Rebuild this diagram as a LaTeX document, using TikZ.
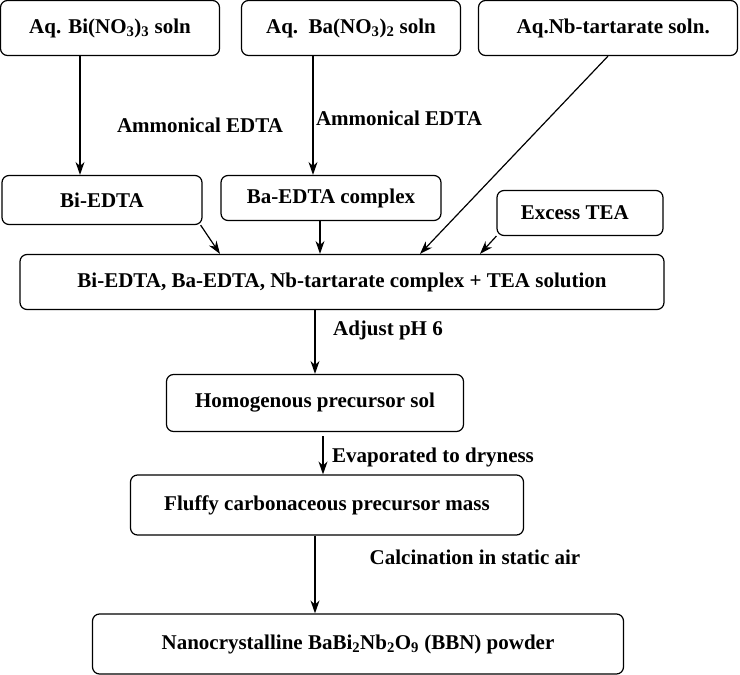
\documentclass[tikz,border=0pt]{standalone}
\usepackage{fontspec}
\setmainfont{Liberation Serif}
\usetikzlibrary{arrows.meta}
\tikzset{
  stepbox/.style={draw,rounded corners=7pt,line width=1.2pt,inner sep=2pt},
  lbl/.style={inner sep=0pt}
}
\begin{document}
\begin{tikzpicture}[x=1pt,y=-1pt,>={Stealth[length=13pt,width=9pt]},line width=1.2pt,font=\bfseries\fontsize{21}{25}\selectfont]
  \useasboundingbox (0,0) rectangle (740,675);
  % starting solutions
  \node[stepbox,minimum width=219pt,minimum height=55pt] (bin) at (110,28) {Aq. Bi(NO\textsubscript{3})\textsubscript{3} soln};
  \node[stepbox,minimum width=219pt,minimum height=55pt] (ban) at (351,28) {Aq.\ \ Ba(NO\textsubscript{3})\textsubscript{2} soln};
  \node[stepbox,minimum width=259pt,minimum height=55pt] (nbt) at (608,28) {\ \ Aq.Nb-tartarate soln.};
  % complexes
  \node[stepbox,minimum width=200pt,minimum height=49pt] (bie) at (102,200) {Bi-EDTA};
  \node[stepbox,minimum width=220pt,minimum height=45pt] (bae) at (331,198) {Ba-EDTA complex};
  \node[stepbox,minimum width=166pt,minimum height=45pt] (tea) at (580,213) {Excess TEA\ \ \ };
  \node[stepbox,minimum width=644pt,minimum height=55pt] (mix) at (342,282) {Bi-EDTA, Ba-EDTA, Nb-tartarate complex + TEA solution};
  % processing
  \node[stepbox,minimum width=297pt,minimum height=57pt] (sol) at (315,403) {Homogenous precursor sol};
  \node[stepbox,minimum width=393pt,minimum height=60pt] (mass) at (327,505) {Fluffy carbonaceous precursor mass};
  \node[stepbox,minimum width=531pt,minimum height=60pt] (bbn) at (358,644) {Nanocrystalline BaBi\textsubscript{2}Nb\textsubscript{2}O\textsubscript{9} (BBN) powder};
  % labels
  \node[lbl] (edta1) at (200,125) {Ammonical EDTA};
  \node[lbl] (edta2) at (399,118) {Ammonical EDTA};
  \node[lbl] (ph) at (388,330) {Adjust pH 6};
  \node[lbl] (evap) at (433,457) {Evaporated to dryness};
  \node[lbl] (calc) at (475,557) {Calcination in static air};
  % arrows
  \draw[->] ([xshift=-30pt]bin.south) -- ([xshift=-22pt]bie.north);
  \draw[->] ([xshift=-38pt]ban.south) -- ([xshift=-18pt]bae.north);
  \draw[->] (nbt.south) -- ([xshift=78pt]mix.north);
  \draw[->] (tea.south west) -- ([xshift=138pt]mix.north);
  \draw[->] ([xshift=-2pt]bie.south east) -- ([xshift=-122pt]mix.north);
  \draw[->] ([xshift=-11pt]bae.south) -- ([xshift=-22pt]mix.north);
  \draw[->] ([xshift=-27pt]mix.south) -- (sol.north);
  \draw[->] ([xshift=8pt,yshift=-4pt]sol.south) -- ([xshift=-4pt]mass.north);
  \draw[->] ([xshift=-12pt]mass.south) -- ([xshift=-43pt]bbn.north);
\end{tikzpicture}
\end{document}
